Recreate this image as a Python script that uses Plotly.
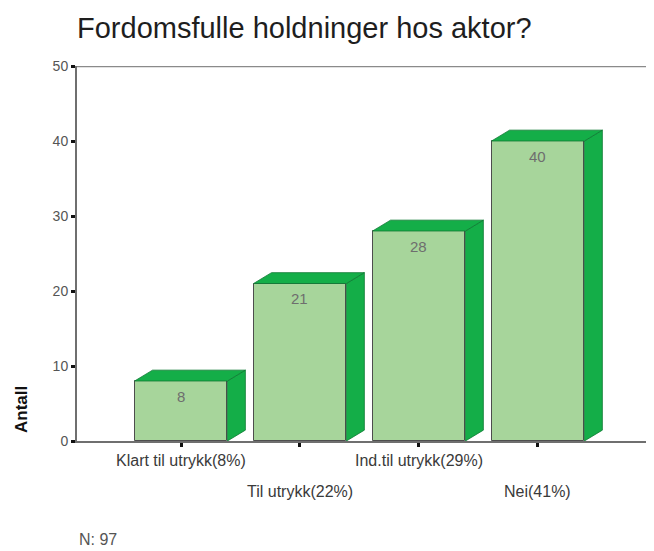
import plotly.graph_objects as go

# ---- data ----
categories = ["Klart til utrykk(8%)", "Til utrykk(22%)", "Ind.til utrykk(29%)", "Nei(41%)"]
counts = [8, 21, 28, 40]
y_ticks = [0, 10, 20, 30, 40, 50]
title_text = "Fordomsfulle holdninger hos aktor?"
y_title = "Antall"
n_text = "N: 97"

# ---- style ----
FONT = "Arial, Liberation Sans, sans-serif"
FRONT = "#a7d59b"
SIDE = "#14ae48"
EDGE = "#4d4d4d"
half_w = 0.39
depth_x = 0.151
depth_y = 1.45
PAGE_OFF = 8  # browser default body margin

xpos = list(range(len(categories)))

side_x, side_y, top_x, top_y = [], [], [], []
for i, v in zip(xpos, counts):
    r = i + half_w
    l = i - half_w
    side_x += [r, r + depth_x, r + depth_x, r, r, None]
    side_y += [0, depth_y, v + depth_y, v, 0, None]
    top_x += [l, l + depth_x, r + depth_x, r, l, None]
    top_y += [v, v + depth_y, v + depth_y, v, v, None]

fig = go.Figure()
fig.add_trace(go.Bar(
    x=xpos, y=counts, width=2 * half_w,
    marker=dict(color=FRONT, line=dict(color=EDGE, width=1)),
    hoverinfo="skip", showlegend=False,
))
fig.add_trace(go.Scatter(
    x=side_x, y=side_y, mode="lines", fill="toself", fillcolor=SIDE,
    line=dict(color="#0f7a33", width=0.8), hoverinfo="skip", showlegend=False,
))
fig.add_trace(go.Scatter(
    x=top_x, y=top_y, mode="lines", fill="toself", fillcolor=SIDE,
    line=dict(color="#0f7a33", width=0.8), hoverinfo="skip", showlegend=False,
))

annotations = []
# value labels inside the front faces
for i, v in zip(xpos, counts):
    annotations.append(dict(
        x=i, y=v, xref="x", yref="y", text=str(v), showarrow=False,
        yshift=-15, yanchor="middle",
        font=dict(family=FONT, size=15, color="#6e6e6e"),
    ))
# staggered category labels
for i, c in zip(xpos, categories):
    annotations.append(dict(
        x=i, y=0, xref="x", yref="paper", text=c, showarrow=False,
        yanchor="middle", yshift=-19 if i % 2 == 0 else -50,
        font=dict(family=FONT, size=16, color="#3a3a3a"),
    ))
# y-axis title
annotations.append(dict(
    x=0, y=0, xref="paper", yref="paper", text="<b>" + y_title + "</b>",
    showarrow=False, textangle=-90, xshift=-56, yshift=31,
    xanchor="center", yanchor="middle",
    font=dict(family=FONT, size=17, color="#111111"),
))
# N note
annotations.append(dict(
    x=0, y=0, xref="paper", yref="paper", text=n_text, showarrow=False,
    xanchor="left", yanchor="middle", yshift=-98,
    font=dict(family=FONT, size=16, color="#555555"),
))

W, H = 654 - PAGE_OFF, 551 - PAGE_OFF
fig.update_layout(
    width=W, height=H,
    margin=dict(l=77 - PAGE_OFF, r=0, t=66 - PAGE_OFF, b=110),
    paper_bgcolor="white", plot_bgcolor="white",
    title=dict(
        text=title_text, x=(77 - PAGE_OFF) / W, xanchor="left",
        y=1 - (28 - PAGE_OFF) / H, yanchor="middle",
        font=dict(family=FONT, size=29, color="#1e1e1e"),
    ),
    xaxis=dict(
        range=[-0.874, 3.975], tickvals=xpos, ticktext=[""] * len(xpos),
        showgrid=False, zeroline=False, showline=True, linecolor="#6f6f6f",
        linewidth=1.5, ticks="outside", ticklen=4, tickwidth=3, tickcolor="#111111",
        fixedrange=True,
    ),
    yaxis=dict(
        range=[0, 50], tickvals=y_ticks, showgrid=False, zeroline=False,
        showline=True, linecolor="#6f6f6f", linewidth=2,
        ticks="outside", ticklen=4, tickwidth=3, tickcolor="#111111",
        tickfont=dict(family=FONT, size=14, color="#555555"),
        fixedrange=True,
    ),
    shapes=[dict(
        type="line", xref="paper", yref="y", x0=0, x1=1, y0=50, y1=50,
        line=dict(color="#8a8a8a", width=2.5),
    )],
    annotations=annotations,
    bargap=0,
)

fig.write_html("out.html")
